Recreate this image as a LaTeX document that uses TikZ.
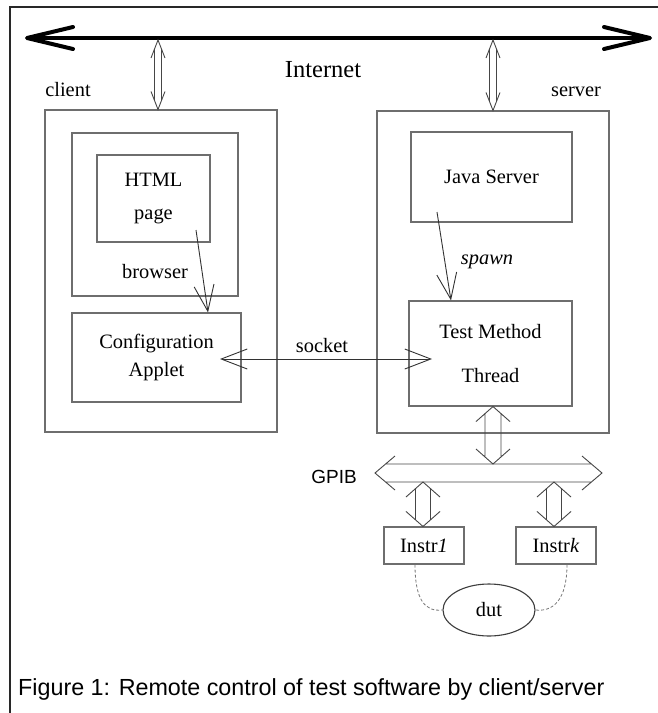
\documentclass[tikz,border=0pt]{standalone}
\usepackage{fontspec}
\setmainfont{Liberation Serif}
\setsansfont{Liberation Sans}
\usetikzlibrary{arrows.meta,calc,shapes.geometric}

\tikzset{
  lbl/.style={inner sep=0pt, font=\fontsize{20.4}{24.5}\selectfont},
  box/.style={draw={rgb,255:red,110;green,110;blue,110}, line width=1.1pt, inner sep=0pt, align=center, font=\fontsize{20.4}{24.5}\selectfont},
  flow/.style={draw={rgb,255:red,50;green,50;blue,50}, line width=0.9pt, -{Straight Barb[length=26pt,width=20pt]}},
  wire/.style={draw={rgb,255:red,120;green,120;blue,120}, line width=0.8pt, densely dashed},
  % hollow double arrow: head length, head half width, shaft half width
  hollow/.style n args={3}{draw={rgb,255:red,70;green,70;blue,70}, line width=0.9pt, to path={
    ($(\tikztostart)!#1pt!(\tikztotarget)$) coordinate (ha)
    ($(\tikztotarget)!#1pt!(\tikztostart)$) coordinate (hb)
    ($(\tikztostart)!{#1*#3/#2*1pt}!(\tikztotarget)$) coordinate (sa)
    ($(\tikztotarget)!{#1*#3/#2*1pt}!(\tikztostart)$) coordinate (sb)
    ($(ha)!#2pt!90:(\tikztotarget)$) -- (\tikztostart) -- ($(ha)!#2pt!-90:(\tikztotarget)$)
    ($(hb)!#2pt!90:(\tikztostart)$) -- (\tikztotarget) -- ($(hb)!#2pt!-90:(\tikztostart)$)
    ($(sa)!#3pt!90:(\tikztotarget)$) -- ($(sb)!#3pt!-90:(\tikztostart)$)
    ($(sa)!#3pt!-90:(\tikztotarget)$) -- ($(sb)!#3pt!90:(\tikztostart)$)
  }}
}

\begin{document}
\begin{tikzpicture}[x=1pt,y=-1pt]
\useasboundingbox (0,0) rectangle (658,713);

% frame
\draw[line width=1.4pt, draw={rgb,255:red,40;green,40;blue,40}] (10,713) -- (10,7) -- (658,7);

% Internet backbone
\coordinate (netL) at (25,38);
\coordinate (netR) at (652,38);
\draw[line width=4pt, {Straight Barb[length=46pt,width=22pt,round]}-{Straight Barb[length=46pt,width=22pt,round]}] (netL) -- (netR);
\node[lbl, font=\fontsize{24.5}{28}\selectfont] (internet) at (323,70) {Internet};
\node[lbl] (clientlbl) at (68,90) {client};
\node[lbl] (serverlbl) at (576,92) {server};

% client side
\node[box, minimum width=232, minimum height=322] (client) at (161,271) {};
\node[box, minimum width=166, minimum height=163] (browser) at (155,214.5) {};
\node[box, minimum width=113, minimum height=87] (html) at (153.5,198.5) {HTML\\[8pt]page};
\node[lbl] (browserlbl) at (155,272) {browser};
\node[box, minimum width=169, minimum height=89] (config) at (156.5,357.5) {Configuration\\[4pt]Applet};

% server side
\node[box, minimum width=232, minimum height=322] (server) at (493,272) {};
\node[box, minimum width=161, minimum height=90] (java) at (491.5,177) {Java Server};
\node[box, minimum width=163, minimum height=105] (test) at (490.5,353.5) {Test Method\\[19pt]Thread};

% instruments
\node[box, minimum width=80, minimum height=37] (instr1) at (424,545.5) {Instr\textit{1}};
\node[box, minimum width=80, minimum height=37] (instrk) at (556,545.5) {Instr\textit{k}};
\node[box, ellipse, minimum width=92, minimum height=52, draw={rgb,255:red,60;green,60;blue,60}] (dut) at (489,610) {dut};

% links to the Internet
\coordinate (cnet) at (158,40);
\coordinate (ctop) at (cnet |- client.north);
\draw[hollow={18}{7}{3.5}] (cnet) to (ctop);
\coordinate (snet) at (493,40);
\coordinate (stop) at (snet |- server.north);
\draw[hollow={18}{7}{3.5}] (snet) to (stop);

% browser and spawn
\coordinate (brA) at (196,230);
\draw[flow] (brA) -- (config.north -| 208,0);
\coordinate (spA) at (437,212);
\draw[flow] (spA) -- (test.north -| 451,0);
\node[lbl, font=\itshape\fontsize{20.4}{24.5}\selectfont] (spawnlbl) at (487,262) {spawn};

% socket
\coordinate (sockL) at (220,359);
\coordinate (sockR) at (432,359);
\draw[flow, {Straight Barb[length=26pt,width=20pt]}-{Straight Barb[length=26pt,width=20pt]}] (sockL) -- (sockR);
\node[lbl] (socketlbl) at (322,346) {socket};

% GPIB bus
\coordinate (gpibL) at (375,473);
\coordinate (gpibR) at (602,473);
\draw[hollow={20}{17}{9}] (gpibL) to (gpibR);
\node[lbl, font=\sffamily\fontsize{19}{23}\selectfont] (gpiblbl) at (334,477) {GPIB};
\coordinate (tbot) at (test.south -| 493,0);
\coordinate (gtop) at (493,464);
\draw[hollow={15}{17}{8}] (tbot) to (gtop);
\coordinate (g1) at (423,482);
\coordinate (i1top) at (g1 |- instr1.north);
\draw[hollow={15}{17}{7.5}] (g1) to (i1top);
\coordinate (gk) at (554,482);
\coordinate (iktop) at (gk |- instrk.north);
\draw[hollow={15}{17}{7.5}] (gk) to (iktop);

% device under test
\coordinate (i1foot) at (instr1.south -| 415,0);
\coordinate (ikfoot) at (instrk.south -| 567,0);
\draw[wire] (i1foot) .. controls (415,600) and (425,612) .. (dut.west);
\draw[wire] (ikfoot) .. controls (567,600) and (553,612) .. (dut.east);

% caption
\node[anchor=base west, inner sep=0pt, font=\sffamily\fontsize{23.3}{28}\selectfont] (caption) at (18,695) {Figure 1: Remote control of test software by client/server};
\end{tikzpicture}
\end{document}
